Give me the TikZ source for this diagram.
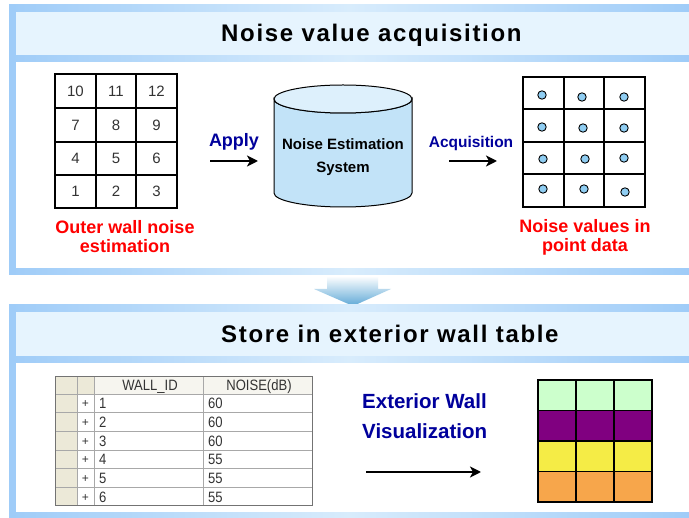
\documentclass[tikz,border=0pt]{standalone}
\usepackage{fontspec}
\setmainfont{Liberation Sans}
\newfontfamily\titlefont[LetterSpace=7]{Liberation Sans}
\usetikzlibrary{arrows.meta}
\definecolor{frameblue}{HTML}{9FCCF8}
\definecolor{framelight}{HTML}{D8ECFC}
\definecolor{bandfill}{HTML}{E6F4FE}
\definecolor{navy}{HTML}{00009C}
\definecolor{redlab}{HTML}{FF0000}
\definecolor{cylbody}{HTML}{C2E3F8}
\definecolor{cyltop}{HTML}{DDF0FC}
\definecolor{dotfill}{HTML}{8FCDF2}
\definecolor{tabbeige}{HTML}{ECE9D8}
\definecolor{tabhead}{HTML}{F6F5EF}
\definecolor{tabline}{HTML}{A8A8A8}
\definecolor{wallgreen}{HTML}{CCFFCC}
\definecolor{wallpurple}{HTML}{800080}
\definecolor{wallyellow}{HTML}{F5EC46}
\definecolor{wallorange}{HTML}{F7A64B}
\definecolor{arrowblue}{HTML}{5EA8D6}
\newcommand{\narrowtxt}[1]{\scalebox{0.87}[1]{#1}}
\begin{document}
\begin{tikzpicture}[x=1pt,y=-1pt,
  titletext/.style={anchor=base west, inner sep=0, font=\titlefont\bfseries\fontsize{24}{28}\selectfont},
  redlabel/.style={text=redlab, align=center, inner sep=0, font=\bfseries\fontsize{18}{19}\selectfont},
  bluelabel/.style={text=navy, inner sep=0, font=\bfseries\fontsize{18}{19}\selectfont},
  flowarrow/.style={line width=2.5pt, -{Stealth[length=11pt,width=11pt,inset=3pt]}},
  gridnum/.style={inner sep=0, text=black!80, font=\fontsize{15}{15}\selectfont},
  dotmark/.style={draw=black, fill=dotfill, line width=0.9pt},
  thingrid/.style={line width=1.2pt},
  thickgrid/.style={line width=2.6pt},
  tabtext/.style={inner sep=0, anchor=base west, text=black!80, font=\fontsize{15}{15}\selectfont},
  tabhdr/.style={inner sep=0, anchor=base, text=black!80, font=\fontsize{15}{15}\selectfont}]
\useasboundingbox (0,0) rectangle (689,518);
\fill[white] (0,0) rectangle (689,518);

% ---------- panel 1 frame ----------
\shade[left color=frameblue, right color=frameblue, middle color=framelight] (9,5) rectangle (689,275);
\fill[frameblue] (9,5) rectangle (16,275);
\fill[bandfill] (16,12) rectangle (689,55);
\fill[white] (16,62) rectangle (689,268);
\node[titletext] (t1) at (221,42) {Noise value acquisition};

% ---------- down arrow ----------
\shade[top color=white, bottom color=arrowblue]
  (327,276) -- (378,276) -- (378,289) -- (391,289) -- (353,306) -- (314,289) -- (327,289) -- cycle;

% ---------- panel 2 frame ----------
\shade[left color=frameblue, right color=frameblue, middle color=framelight] (9,305) rectangle (689,518);
\fill[frameblue] (9,305) rectangle (16,518);
\fill[bandfill] (16,312) rectangle (689,356);
\fill[white] (16,363) rectangle (689,512);
\node[titletext] (t2) at (221,343) {Store in exterior wall table};

% ---------- left grid ----------
\draw[thingrid] (96,74) -- (96,208) (136,74) -- (136,208)
  (55,108) -- (177,108) (55,142) -- (177,142) (55,175) -- (177,175);
\draw[thickgrid] (55,74) rectangle (177,208);
\node[gridnum] (n10) at (75.5,91) {10};
\node[gridnum] (n11) at (116,91) {11};
\node[gridnum] (n12) at (156.5,91) {12};
\node[gridnum] (n7) at (75.5,125) {7};
\node[gridnum] (n8) at (116,125) {8};
\node[gridnum] (n9) at (156.5,125) {9};
\node[gridnum] (n4) at (75.5,158.5) {4};
\node[gridnum] (n5) at (116,158.5) {5};
\node[gridnum] (n6) at (156.5,158.5) {6};
\node[gridnum] (n1) at (75.5,191.5) {1};
\node[gridnum] (n2) at (116,191.5) {2};
\node[gridnum] (n3) at (156.5,191.5) {3};
\node[redlabel] (lab1) at (125,237) {Outer wall noise\\estimation};

% ---------- apply ----------
\node[bluelabel] (apply) at (234,142) {Apply};
\coordinate (a1s) at (210,161);
\coordinate (a1e) at (258,161);
\draw[flowarrow] (a1s) -- (a1e);

% ---------- cylinder ----------
\fill[cylbody, draw=black, line width=1pt]
  (274,99) -- (274,193) arc[start angle=180, end angle=360, x radius=69pt, y radius=14pt]
  -- (412,99) arc[start angle=0, end angle=-180, x radius=69pt, y radius=14pt] -- cycle;
\draw[fill=cyltop, line width=1pt] (343,99) ellipse[x radius=69pt, y radius=14pt];
\node[inner sep=0, align=center, font=\bfseries\fontsize{15}{23}\selectfont] (nes) at (343,157) {Noise Estimation\\System};

% ---------- acquisition ----------
\node[bluelabel, font=\bfseries\fontsize{15.5}{16}\selectfont] (acq) at (471,143) {Acquisition};
\coordinate (a2s) at (449,161);
\coordinate (a2e) at (497,161);
\draw[flowarrow] (a2s) -- (a2e);

% ---------- right grid ----------
\draw[thingrid] (564,77) -- (564,207) (604,77) -- (604,207)
  (523,109) -- (645,109) (523,142) -- (645,142) (523,174) -- (645,174);
\draw[thickgrid] (523,77) rectangle (645,207);
\foreach \px/\py in {542/95,582/97,624/97,542/127,583/128,624/128,543/159,585/159,624/158,543/189,584/189,625/192}
  \draw[dotmark] (\px,\py) circle[radius=4.2pt];
\node[redlabel] (lab2) at (585,237) {Noise values in\\point data};

% ---------- table ----------
\fill[tabbeige] (55,377) rectangle (77,506);
\fill[tabbeige] (77,377) rectangle (94,394);
\fill[tabhead] (94,377) rectangle (312,394);
\draw[tabline, line width=0.8pt]
  (77,377) -- (77,506) (94,377) -- (94,506) (203,377) -- (203,506)
  \foreach \k in {0,...,5} { (55,394+\k*18.67) -- (312,394+\k*18.67) };
\draw[black!55, line width=1pt] (55,377) rectangle (312,506);
\node[tabhdr] (hid) at (150,391) {\narrowtxt{WALL\_ID}};
\node[tabhdr] (hno) at (259,391) {\narrowtxt{NOISE(dB)}};
\foreach \i/\v in {1/60,2/60,3/60,4/55,5/55,6/55}{
  \node[tabhdr, font=\fontsize{12}{12}\selectfont] (p\i) at (85.5,394+\i*18.67-5) {+};
  \node[tabtext] (id\i) at (99,394+\i*18.67-4) {\narrowtxt{\i}};
  \node[tabtext] (nv\i) at (208,394+\i*18.67-4) {\narrowtxt{\v}};
}

% ---------- exterior wall visualization ----------
\node[inner sep=0, align=left, text=navy, anchor=north west, font=\bfseries\fontsize{20.5}{30}\selectfont] (ewv) at (362,393) {Exterior Wall\\Visualization};
\coordinate (a3s) at (366,472);
\coordinate (a3e) at (481,472);
\draw[flowarrow] (a3s) -- (a3e);

% ---------- coloured wall grid ----------
\fill[wallgreen] (538,380) rectangle (652,410.5);
\fill[wallpurple] (538,410.5) rectangle (652,441);
\fill[wallyellow] (538,441) rectangle (652,471.5);
\fill[wallorange] (538,471.5) rectangle (652,502);
\draw[thingrid] (576,380) -- (576,502) (614,380) -- (614,502)
  (538,410.5) -- (652,410.5) (538,441) -- (652,441) (538,471.5) -- (652,471.5);
\draw[thickgrid] (538,380) rectangle (652,502);
\end{tikzpicture}
\end{document}
